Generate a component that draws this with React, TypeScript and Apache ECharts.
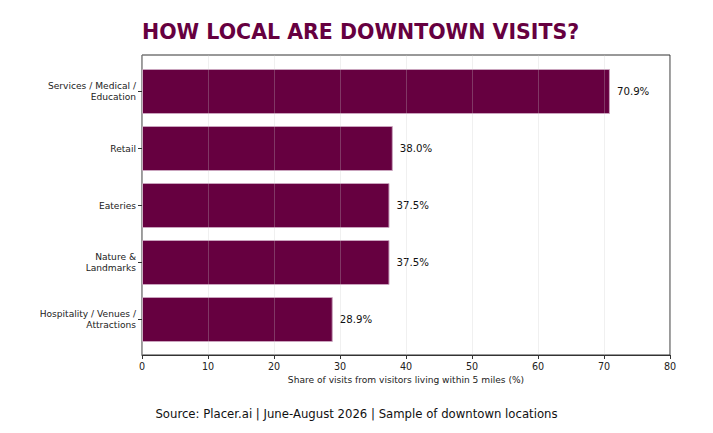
import { useEffect, useRef } from 'react'
import * as echarts from 'echarts'

const categories = ['Services / Medical /\nEducation', 'Retail', 'Eateries', 'Nature &\nLandmarks', 'Hospitality / Venues /\nAttractions']
const shares = [70.9, 38.0, 37.5, 37.5, 28.9]
const xMin = 0
const xMax = 80
const xStep = 10

const FONT = 'DejaVu Sans'
const PLUM = '#660040'

export default function App() {
  const ref = useRef<HTMLDivElement>(null)

  useEffect(() => {
    if (!ref.current) return
    const chart = echarts.init(ref.current, null, { renderer: 'svg' })
    chart.setOption({
      animation: false,
      textStyle: { fontFamily: FONT },
      title: [
        { text: 'HOW LOCAL ARE DOWNTOWN VISITS?', left: 137, top: 16, textStyle: { fontFamily: FONT, fontSize: 20.5, fontWeight: 'bold', color: PLUM } },
        { text: 'Source: Placer.ai | June-August 2026 | Sample of downtown locations', left: 'center', top: 403, textStyle: { fontFamily: FONT, fontSize: 11.7, fontWeight: 'normal', color: '#111' } },
      ],
      grid: [
        { left: 142, top: 63, width: 528, height: 285 },
        { left: 142, top: 55, width: 528, height: 300, show: true, borderColor: '#333', borderWidth: 1, backgroundColor: 'transparent' },
      ],
      xAxis: [
        { gridIndex: 0, type: 'value', min: xMin, max: xMax, show: false },
        {
          gridIndex: 1, type: 'value', min: xMin, max: xMax, interval: xStep, z: 5,
          name: 'Share of visits from visitors living within 5 miles (%)', nameLocation: 'middle', nameGap: 20,
          nameTextStyle: { fontFamily: FONT, fontSize: 9.1, color: '#222' },
          axisLine: { show: true, lineStyle: { color: '#333' } },
          axisTick: { show: true, length: 4, lineStyle: { color: '#333' } },
          axisLabel: { fontFamily: FONT, fontSize: 9.6, color: '#222', margin: 6 },
          splitLine: { show: true, lineStyle: { color: 'rgba(200,200,200,0.35)', width: 0.8 } },
        },
      ],
      yAxis: [
        {
          gridIndex: 0, type: 'category', data: categories, inverse: true,
          axisLine: { show: false },
          axisTick: { show: true, alignWithLabel: true, length: 4, lineStyle: { color: '#333' } },
          axisLabel: { fontFamily: FONT, fontSize: 9.1, lineHeight: 11, color: '#222', margin: 6 },
        },
        { gridIndex: 1, type: 'value', min: 0, max: 1, show: false },
      ],
      series: [{
        type: 'bar', xAxisIndex: 0, yAxisIndex: 0, data: shares, barWidth: 45,
        itemStyle: { color: PLUM, borderColor: '#c9a3bd', borderWidth: 1 },
        label: { show: true, position: 'right', distance: 7, fontFamily: FONT, fontSize: 10.2, color: '#111', formatter: (p: any) => p.value.toFixed(1) + '%' },
      }],
    })
    return () => chart.dispose()
  }, [])

  return <div ref={ref} style={{ position: 'fixed', left: 0, top: 0, width: 713, height: 433, background: '#fff' }} />
}
